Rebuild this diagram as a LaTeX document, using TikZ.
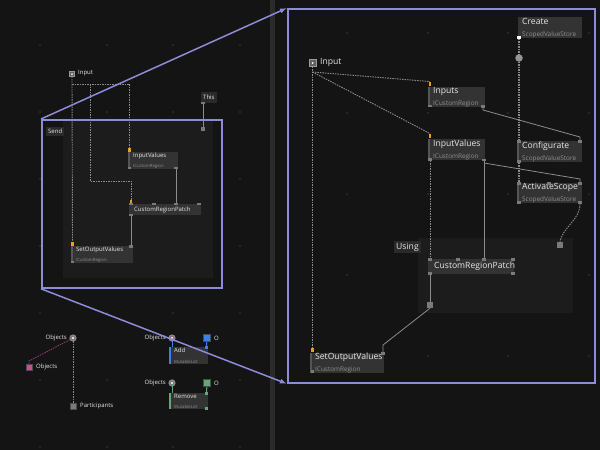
\documentclass[tikz,border=0pt]{standalone}
\usepackage{fontspec}
\setmainfont{Open Sans}
\usetikzlibrary{arrows.meta}
\definecolor{canvas}{HTML}{141414}
\definecolor{divider}{HTML}{2B2B2B}
\definecolor{regionfill}{HTML}{1C1C1C}
\definecolor{opfill}{HTML}{333333}
\definecolor{optext}{HTML}{E6E6E6}
\definecolor{subtext}{HTML}{8F8F8F}
\definecolor{wiregray}{HTML}{8C8C8C}
\definecolor{portgray}{HTML}{7A7A7A}
\definecolor{bargray}{HTML}{555555}
\definecolor{griddot}{HTML}{3A3A3A}
\definecolor{zoomblue}{HTML}{8C8CD8}
\definecolor{slotorange}{HTML}{E8A020}
\definecolor{listpink}{HTML}{C8508C}
\definecolor{pinkwire}{HTML}{8A3C64}
\definecolor{listblue}{HTML}{3C82E6}
\definecolor{listgreen}{HTML}{5FA877}
\definecolor{tagfill}{HTML}{2A2A2A}

\newcommand\ttlR{\fontsize{8.6}{9.5}\selectfont}
\newcommand\subR{\fontsize{6.4}{7}\selectfont\color{subtext}}
\newcommand\ttlL{\fontsize{6}{6.5}\selectfont}
\newcommand\subL{\fontsize{4.3}{4.8}\selectfont\color{subtext}}

\pgfdeclarelayer{back}
\pgfdeclarelayer{wires}
\pgfsetlayers{back,wires,main}

\tikzset{
  opnode/.style={rectangle, fill=opfill, anchor=north west, inner xsep=4pt, inner ysep=0pt, align=left, text=optext},
  opbar/.style={line width=1.6pt, bargray},
  port/.style={rectangle, fill=portgray, inner sep=0pt, minimum width=3.5pt, minimum height=2.5pt},
  slot/.style={rectangle, fill=slotorange, inner sep=0pt, minimum width=2.5pt, minimum height=4.5pt},
  wire/.style={line width=0.8pt, wiregray},
  dwire/.style={line width=0.9pt, wiregray, dash pattern=on 1.5pt off 1pt},
  tag/.style={rectangle, fill=tagfill, anchor=north west, inner xsep=2pt, inner ysep=0pt, text=optext},
  pinport/.style={rectangle, fill=#1, draw=black!70, line width=0.3pt, inner sep=0pt, minimum size=6pt},
  inport/.style={rectangle, fill=portgray!80!black, draw=gray!80, line width=0.4pt, inner sep=0pt,
    path picture={\fill[white] (path picture bounding box.center) circle (1pt);}},
  ringport/.style={circle, fill=portgray, draw=gray!60, line width=0.4pt, inner sep=0pt, minimum size=6.5pt,
    path picture={\fill[white] (path picture bounding box.center) circle (1.1pt);}},
  zoomframe/.style={rectangle, draw=zoomblue, line width=1.8pt, anchor=north west, inner sep=0pt},
  zoomline/.style={zoomblue, line width=1.5pt, -{Latex[length=7pt,width=5pt]}},
  caption/.style={text=optext, inner sep=0pt},
}

\begin{document}
\begin{tikzpicture}[x=1pt,y=-1pt]
\begin{pgfonlayer}{back}
\fill[canvas] (0,0) rectangle (600,450);
\foreach \gx in {40,107,173,240}
  \foreach \gy in {45,112,179,246,313,380,447}
    \fill[griddot] (\gx,\gy) circle (0.8pt);
\foreach \gx in {347,428,508,589}
  \foreach \gy in {33,113,194,275,356}
    \fill[griddot] (\gx,\gy) circle (0.8pt);
\fill[divider] (270,0) rectangle (275,450);
% regions
\fill[regionfill] (63,121) rectangle (213,278);
\fill[regionfill] (418,238) rectangle (573,313);
\end{pgfonlayer}
\useasboundingbox (0,0) rectangle (600,450);

% left graph
\node[inport, minimum size=5pt] (lin) at (72,74) {};
\node[caption, anchor=west, font=\ttlL] (linlabel) at (78,73) {Input};
\node[tag, minimum height=9pt, font=\ttlL] (sendtag) at (46,127) {Send};
\node[tag, minimum height=11pt, font=\ttlL] (thistag) at (201,92) {This};
\node[opnode, text width=41pt, minimum height=17pt] (linvals) at (129,152) {\ttlL InputValues\\[-1.5pt]\subL ICustomRegion};
\node[opnode, inner xsep=5pt, text width=62pt, minimum height=11pt] (lpatch) at (129,204) {\ttlL CustomRegionPatch};
\node[opnode, text width=53pt, minimum height=17pt] (lsetout) at (72,246) {\ttlL SetOutputValues\\[-1.5pt]\subL ICustomRegion};
\draw[opbar] (linvals.north west) -- (linvals.south west);
\draw[opbar] (lsetout.north west) -- (lsetout.south west);
\node[slot] (linvals-in) at (129.5,150) {};
\node[slot] (lpatch-in) at (131,202) {};
\node[slot] (lsetout-in) at (72.5,244) {};
\node[port] (linvals-bl) at (129.5,168) {};
\node[port] (linvals-out) at (176,168) {};
\node[port] (lpatch-tl) at (131,204) {};
\node[port] (lpatch-t2) at (154,204) {};
\node[port] (lpatch-top) at (176,204) {};
\node[port] (lpatch-t4) at (199,204) {};
\node[port] (lpatch-out) at (131,215) {};
\node[port] (lsetout-top) at (131,246.5) {};
\node[port] (lsetout-bl) at (72.5,262) {};
\node[port] (this-out) at (203,103) {};
\node[rectangle, fill=portgray, minimum size=4.5pt, inner sep=0pt] (thisin) at (203,129) {};
\coordinate (lfork) at (72,84);
\coordinate (lbend1) at (129.5,84);
\coordinate (lbend2) at (90,84);
\coordinate (lbend3) at (90,181);
\coordinate (lbend4) at (131,181);
\begin{pgfonlayer}{wires}
\draw[dwire] (lin.south) -- (lsetout-in.north);
\draw[dwire] (lfork) -- (lbend1) -- (linvals-in.north);
\draw[dwire] (lbend2) -- (lbend3) -- (lbend4) -- (lpatch-in.north);
\draw[wire] (linvals-out) -- (lpatch-top);
\draw[wire] (lpatch-out) -- (lsetout-top);
\draw[wire] (this-out) -- (thisin);
\end{pgfonlayer}

% right graph (zoomed)
\node[inport, minimum size=7pt] (rin) at (312.5,63) {};
\node[caption, anchor=west, font=\ttlR] (rinlabel) at (320,62) {Input};
\node[opnode, text width=48pt, minimum height=20pt] (rinputs) at (429,87) {\ttlR Inputs\\\subR ICustomRegion};
\node[opnode, text width=48pt, minimum height=21pt] (rinvals) at (429,139) {\ttlR InputValues\\\subR ICustomRegion};
\node[opnode, text width=56pt, minimum height=21pt] (rcreate) at (518,17) {\ttlR Create\\\subR ScopedValueStore};
\node[opnode, text width=56pt, minimum height=21pt] (rconfig) at (518,141) {\ttlR Configurate\\\subR ScopedValueStore};
\node[opnode, text width=56pt, minimum height=20pt] (ractiv) at (518,183) {\ttlR ActivateScope\\\subR ScopedValueStore};
\node[opnode, inner xsep=6pt, text width=74pt, minimum height=15pt] (rpatch) at (428,259) {\ttlR CustomRegionPatch};
\node[opnode, text width=65pt, minimum height=19pt] (rsetout) at (311,353) {\ttlR SetOutputValues\\\subR ICustomRegion};
\node[tag, minimum height=12pt, font=\ttlR] (usingtag) at (394,241) {Using};
\draw[opbar] (rinputs.north west) -- (rinputs.south west);
\draw[opbar] (rinvals.north west) -- (rinvals.south west);
\draw[opbar] (rconfig.north west) -- (rconfig.south west);
\draw[opbar] (ractiv.north west) -- (ractiv.south west);
\draw[opbar] (rsetout.north west) -- (rsetout.south west);
\node[slot] (rinputs-in) at (430,84) {};
\node[slot] (rinvals-in) at (430,136) {};
\node[slot] (rsetout-in) at (312.5,350) {};
\node[port] (rinputs-bl) at (430,106) {};
\node[port] (rinputs-out) at (483,106.5) {};
\node[port] (rinvals-bl) at (430,159.5) {};
\node[port] (rinvals-out) at (484,160) {};
\node[port, fill=white, minimum width=4pt] (rcreate-out) at (519,37.5) {};
\node[circle, fill=portgray!80, inner sep=0pt, minimum size=7.5pt] (rstoredot) at (519,58) {};
\node[port] (rconfig-in) at (519,141.5) {};
\node[port] (rconfig-bl) at (519,161.5) {};
\node[port] (rconfig-tr) at (580,141.5) {};
\node[port] (ractiv-in) at (519,183.5) {};
\node[port] (ractiv-mid) at (549,183.5) {};
\node[port] (ractiv-tr) at (580,183.5) {};
\node[port] (ractiv-bl) at (519,202.5) {};
\node[port] (ractiv-out) at (580,202.5) {};
\node[port] (rpatch-in) at (430,259.5) {};
\node[port] (rpatch-t2) at (458,259.5) {};
\node[port] (rpatch-top) at (484,259.5) {};
\node[port] (rpatch-t4) at (513,259.5) {};
\node[port] (rpatch-out) at (430,273.5) {};
\node[port] (rpatch-br) at (513,273.5) {};
\node[port] (rsetout-top) at (383,353.5) {};
\node[port] (rsetout-bl) at (312.5,371.5) {};
\node[rectangle, fill=portgray, minimum size=6pt, inner sep=0pt] (rsq1) at (560,245) {};
\node[rectangle, fill=portgray, minimum size=6pt, inner sep=0pt] (rsq2) at (430,305) {};
\coordinate (rfork) at (312.5,72);
\coordinate (rdrop) at (483,110);
\coordinate (rbend1) at (580,137);
\coordinate (rsplit) at (484,163);
\coordinate (rbend2) at (580,179);
\coordinate (rbend3) at (383,345);
\begin{pgfonlayer}{wires}
\draw[dwire] (rin.south) -- (rsetout-in.north);
\draw[dwire] (rfork) -- (rinputs-in.north);
\draw[dwire] (rfork) -- (rinvals-in.north);
\draw[dwire] (rinvals-bl) -- (rpatch-in);
\draw[wire] (rinputs-out) -- (rdrop) -- (rbend1) -- (rconfig-tr);
\draw[wire] (rinvals-out) -- (rpatch-top);
\draw[wire] (rsplit) -- (rbend2) -- (ractiv-tr);
\draw[dwire, line width=1.3pt] (rcreate-out) -- (rstoredot) -- (rconfig-in);
\draw[dwire, line width=1.3pt] (rconfig-bl) -- (ractiv-in);
\draw[dwire] (ractiv-out) .. controls (580,220) and (562,228) .. (rsq1.north);
\draw[wire] (rpatch-out) -- (rsq2.north);
\draw[wire] (rsq2.south) -- (rbend3) -- (rsetout-top);
\end{pgfonlayer}

% list ports bottom left
\node[ringport] (bring1) at (73,338) {};
\node[caption, anchor=east, font=\ttlL] (bobjects1) at (67,338) {Objects};
\node[pinport=listpink] (bpink) at (29,367) {};
\node[caption, anchor=west, font=\ttlL] (bobjects2) at (36,367) {Objects};
\node[pinport=portgray] (bpart) at (73,406) {};
\node[caption, anchor=west, font=\ttlL] (bparts) at (80,406) {Participants};
\coordinate (bpinkbend) at (29,361);
\node[ringport] (bring2) at (172,338) {};
\node[caption, anchor=east, font=\ttlL] (bobjects3) at (166,338) {Objects};
\node[pinport=listblue, minimum size=7pt] (bblue) at (207,338) {};
\node[caption, anchor=west, font=\ttlL] (bblueo) at (214,338) {O};
\node[opnode, text width=30pt, minimum height=17pt] (badd) at (170,347) {\ttlL Add\\[-1.5pt]\subL MutableList};
\draw[opbar, listblue] (badd.north west) -- (badd.south west);
\node[ringport] (bring3) at (172,383) {};
\node[caption, anchor=east, font=\ttlL] (bobjects4) at (166,383) {Objects};
\node[pinport=listgreen, minimum size=7pt] (bgreen) at (207,383) {};
\node[caption, anchor=west, font=\ttlL] (bgreeno) at (214,383) {O};
\node[opnode, text width=30pt, minimum height=16pt] (bremove) at (170,393) {\ttlL Remove\\[-1.5pt]\subL MutableList};
\draw[opbar, listgreen] (bremove.north west) -- (bremove.south west);
\node[port, fill=listblue] (badd-tr) at (206.5,347.5) {};
\node[port, fill=listgreen] (bremove-tr) at (206.5,393.5) {};
\node[port, fill=listgreen] (bremove-br) at (206.5,408.5) {};
\begin{pgfonlayer}{wires}
\draw[dwire, pinkwire] (bring1) -- (bpinkbend) -- (bpink.north);
\draw[dwire] (bring1) -- (bpart);
\draw[wire, listblue, line width=1pt] (bring2) -- (bring2 |- badd.north);
\draw[wire, listblue, line width=1pt] (bblue) -- (badd-tr);
\draw[wire, listgreen, line width=1pt] (bring3) -- (bring3 |- bremove.north);
\draw[wire, listgreen, line width=1pt] (bgreen) -- (bremove-tr);
\end{pgfonlayer}

% zoom callout
\node[zoomframe, minimum width=180pt, minimum height=168pt] (lzoom) at (41,119) {};
\node[zoomframe, minimum width=307pt, minimum height=374pt] (rzoom) at (287,8) {};
\draw[zoomline] (lzoom.north west) -- (rzoom.north west);
\draw[zoomline] (lzoom.south west) -- (rzoom.south west);
\end{tikzpicture}
\end{document}
